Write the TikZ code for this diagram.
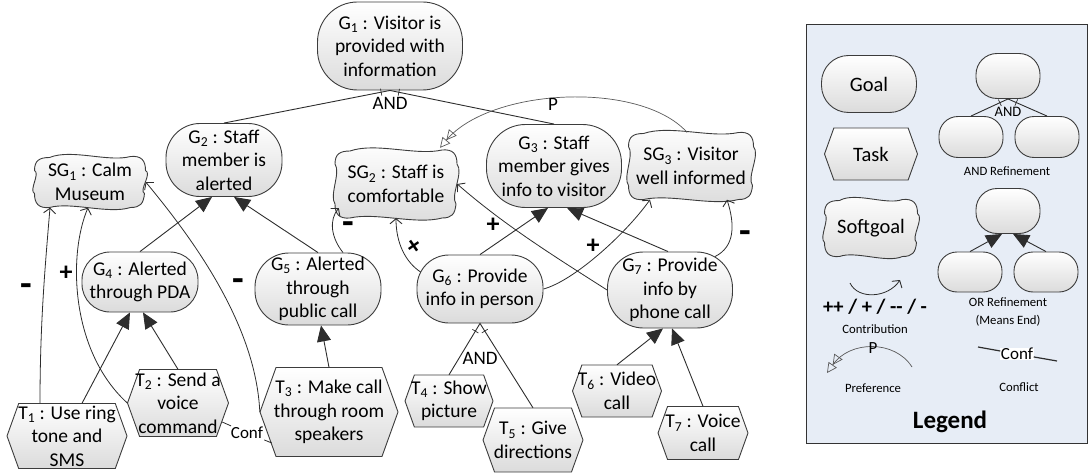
\documentclass[tikz,border=0pt]{standalone}
\usepackage{fontspec}
\setmainfont{Carlito}
\usetikzlibrary{arrows.meta,calc}
\definecolor{legendbg}{RGB}{231,237,246}
\definecolor{edgecol}{RGB}{45,45,45}
\definecolor{bordercol}{RGB}{60,60,60}
\newcommand\mainsz{\fontsize{19.5}{23.5}\selectfont}
\newcommand\legsz{\fontsize{20.5}{24}\selectfont}
\newcommand\smallsz{\fontsize{12.7}{18}\selectfont}
\tikzset{
 base/.style={draw=bordercol, line width=0.9pt, top color=white, bottom color=black!14},
 goalnode/.style={base, rounded corners=#1, align=center, font=\mainsz, inner sep=0pt},
 txtnode/.style={align=center, font=\mainsz, inner sep=0pt},
 meansend/.style={draw=edgecol, line width=0.9pt, -{Triangle[length=16pt,width=14pt]}},
 contrib/.style={draw=edgecol, line width=0.8pt, -{Straight Barb[length=5pt,width=12pt,line width=0.9pt]}},
 pref/.style={draw=black!65, line width=0.7pt, -{Triangle[open,length=10pt,width=10pt]Triangle[open,length=10pt,width=10pt]}},
 refline/.style={draw=edgecol, line width=0.9pt},
 clab/.style={font=\bfseries\fontsize{26}{26}\selectfont, inner sep=0pt},
 mlab/.style={font=\bfseries\fontsize{38}{38}\selectfont, inner sep=0pt},
 andlbl/.style={font=\fontsize{19}{20}\selectfont, inner sep=0pt},
 conflbl/.style={font=\fontsize{17}{17}\selectfont, inner sep=1pt},
 smalltxt/.style={font=\smallsz, align=center, inner sep=0pt},
 legbox/.style={draw=black!80, line width=1pt, fill=legendbg},
}
% softgoal: name, x, y, w, h, text
\newcommand\sgoal[6]{%
 \pgfmathsetmacro\sgA{#4/2}\pgfmathsetmacro\sgB{#5/2}%
 \begin{scope}[shift={(#2,#3)}]
 \path[base] (-\sgA+15,-\sgB+1) .. controls (-\sgA/3,-\sgB-8) and (\sgA/3,-\sgB+6) .. (\sgA-15,-\sgB)
   .. controls (\sgA-4,-\sgB-1) and (\sgA,-\sgB+4) .. (\sgA,-\sgB+14)
   .. controls (\sgA+7,-\sgB/3) and (\sgA-7,\sgB/3) .. (\sgA-1,\sgB-14)
   .. controls (\sgA-2,\sgB-4) and (\sgA-5,\sgB) .. (\sgA-15,\sgB)
   .. controls (\sgA/3,\sgB+7) and (-\sgA/3,\sgB-6) .. (-\sgA+15,\sgB)
   .. controls (-\sgA+4,\sgB+1) and (-\sgA,\sgB-4) .. (-\sgA,\sgB-14)
   .. controls (-\sgA-6,\sgB/3) and (-\sgA+6,-\sgB/3) .. (-\sgA,-\sgB+14)
   .. controls (-\sgA,-\sgB+4) and (-\sgA+5,-\sgB+1) .. cycle;
 \end{scope}
 \node[txtnode, minimum width=#4pt, minimum height=#5pt] (#1) at (#2,#3) {#6};%
}
% task: name, x, y, w, h, text
\newcommand\task[6]{%
 \pgfmathsetmacro\tkA{#4/2}\pgfmathsetmacro\tkB{#5/2}\pgfmathsetmacro\tkD{#5*0.18}%
 \begin{scope}[shift={(#2,#3)}]
 \path[base] (-\tkA,0) -- (-\tkA+\tkD,-\tkB) -- (\tkA-\tkD,-\tkB) -- (\tkA,0) -- (\tkA-\tkD,\tkB) -- (-\tkA+\tkD,\tkB) -- cycle;
 \end{scope}
 \node[txtnode, minimum width=#4pt, minimum height=#5pt] (#1) at (#2,#3) {#6};%
}
\newcommand\andtick[2]{%
 \path ($(#1)!9pt!(#2)$) coordinate (atk);
 \draw[edgecol, line width=0.7pt] ($(atk)!3.5pt!90:(#2)$) -- ($(atk)!3.5pt!-90:(#2)$);%
}
\begin{document}
\begin{tikzpicture}[x=1pt,y=-1pt]
\useasboundingbox (0,0) rectangle (1089,476);
% ---------- main diagram nodes
\node[goalnode=40pt, minimum width=145pt, minimum height=88pt] (G1) at (390,46) {G\textsubscript{1} : Visitor is\\provided with\\information};
\node[goalnode=34pt, minimum width=116pt, minimum height=73pt] (G2) at (224,160) {G\textsubscript{2} : Staff\\member is\\alerted};
\node[goalnode=39pt, minimum width=135pt, minimum height=83pt] (G3) at (554,166) {G\textsubscript{3} : Staff\\member gives\\info to visitor};
\node[goalnode=28pt, minimum width=116pt, minimum height=60pt] (G4) at (140,282) {G\textsubscript{4} : Alerted\\through PDA};
\node[goalnode=34pt, minimum width=126pt, minimum height=72pt] (G5) at (318,289) {G\textsubscript{5} : Alerted\\through\\public call};
\node[goalnode=32pt, minimum width=126pt, minimum height=68pt] (G6) at (480,289) {G\textsubscript{6} : Provide\\info in person};
\node[goalnode=36pt, minimum width=125pt, minimum height=76pt] (G7) at (670,290) {G\textsubscript{7} : Provide\\info by\\phone call};
\sgoal{SG1}{90}{182}{111}{51}{SG\textsubscript{1} : Calm\\Museum}
\sgoal{SG2}{396}{184}{122}{68}{SG\textsubscript{2} : Staff is\\comfortable}
\sgoal{SG3}{691}{166}{125}{67}{SG\textsubscript{3} : Visitor\\well informed}
\task{T1}{67}{436}{120}{65}{T\textsubscript{1} : Use ring\\tone and\\SMS}
\task{T2}{178}{403}{101}{67}{T\textsubscript{2} : Send a\\voice\\command}
\task{T3}{329}{412}{138}{89}{T\textsubscript{3} : Make call\\through room\\speakers}
\task{T4}{449}{401}{88}{52}{T\textsubscript{4} : Show\\picture}
\task{T5}{533}{440}{100}{64}{T\textsubscript{5} : Give\\directions}
\task{T6}{617}{391}{89}{52}{T\textsubscript{6} : Video\\call}
\task{T7}{703}{433}{90}{53}{T\textsubscript{7} : Voice\\call}
% ---------- AND refinements
\draw[refline] (G2.north) -- (G1.south) -- (G3.north);
\andtick{G1.south}{G2.north}\andtick{G1.south}{G3.north}
\node[andlbl] (and1) at ([yshift=-13pt]G1.south) {AND};
\draw[refline] (T4.north) -- (G6.south) -- (T5.north);
\andtick{G6.south}{T4.north}\andtick{G6.south}{T5.north}
\node[andlbl] (and2) at ([yshift=-35pt]G6.south) {AND};
% ---------- means-end
\draw[meansend] ([xshift=15pt]T1.north) -- ([xshift=-10pt]G4.south);
\draw[meansend] (T2.north) -- ([xshift=3pt]G4.south);
\draw[meansend] (T3.north) -- ([xshift=3pt]G5.south);
\draw[meansend] (G4.north) -- ([xshift=-12pt]G2.south);
\draw[meansend] (G5.north) -- ([xshift=10pt]G2.south);
\draw[meansend] (G6.north) -- ([xshift=-6pt]G3.south);
\draw[meansend] ([xshift=-2pt]G7.north) -- ([xshift=13pt]G3.south);
\draw[meansend] (T6.north) -- ([xshift=-7pt]G7.south);
\draw[meansend] (T7.north) -- ([xshift=2pt]G7.south);
% ---------- contributions
\draw[contrib] ([xshift=-27pt]T1.north) .. controls +(0,-80) and +(-5,60) .. ([xshift=-40pt]SG1.south);
\node[mlab] (m1) at (26,290) {-};
\draw[contrib] (T2.west) .. controls +(-57,-52) and +(-20,47) .. ([xshift=-2pt]SG1.south);
\node[clab] (p1) at (66,273) {+};
\draw[contrib] (T3.west) .. controls +(-4,-90) and +(43,52) .. (SG1.east);
\node[mlab] (m2) at (238,285) {-};
\draw[contrib] ([xshift=25pt]G5.north) .. controls +(-12,-15) and +(-10,12) .. ([xshift=4pt,yshift=-24pt]SG2.west);
\node[mlab] (m3) at (348,228) {-};
\draw[contrib] ([xshift=4pt,yshift=17pt]G6.west) .. controls +(-15,-10) and +(0,25) .. (SG2.south);
\node[clab, rotate=35] (p2) at (415,247) {+};
\draw[contrib] (G7.west) .. controls +(-50,-32) and +(48,42) .. (SG2.east);
\node[clab] (p3) at (493,225) {+};
\draw[contrib] (G6.east) .. controls +(30,-8) and +(-25,35) .. ([xshift=-41pt]SG3.south);
\node[clab] (p4) at (593,246) {+};
\draw[contrib] ([xshift=45pt,yshift=-5pt]G7.north) .. controls +(20,-10) and +(8,25) .. ([xshift=36pt]SG3.south);
\node[mlab] (m4) at (745,237) {-};
% ---------- preference
\draw[pref] ([xshift=-4pt]SG3.north) .. controls +(-47,-52) and +(50,-60) .. ([xshift=44pt,yshift=2pt]SG2.north);
\node[andlbl] (P) at (553,104) {P};
% ---------- conflict
\node[conflbl] (conf) at (247,433) {Conf};
\draw[refline, line width=0.8pt] ([xshift=-6.5pt,yshift=-19pt]T2.east) -- (conf) -- ([xshift=12pt,yshift=-31pt]T3.west);
% ---------- legend
\node[legbox, minimum width=281pt, minimum height=418pt, inner sep=0pt] (legend) at (946.5,234) {};
\node[goalnode=27pt, minimum width=95pt, minimum height=57pt, font=\legsz] (LG) at (869,84) {Goal};
\task{LT}{871}{154}{93}{52}{\legsz Task}
\sgoal{LS}{871}{228}{93}{57}{\legsz Softgoal}
\node[goalnode=21pt, minimum width=64pt, minimum height=45pt] (LA0) at (1008,76) {};
\node[goalnode=19pt, minimum width=64pt, minimum height=41pt] (LA1) at (971,137) {};
\node[goalnode=19pt, minimum width=64pt, minimum height=41pt] (LA2) at (1047,137) {};
\draw[refline] (LA1.north) -- (LA0.south) -- (LA2.north);
\andtick{LA0.south}{LA1.north}\andtick{LA0.south}{LA2.north}
\node[font=\fontsize{14.5}{15}\selectfont, inner sep=0pt] (la) at (1008,112) {AND};
\node[smalltxt] (lat) at (1007,171) {AND Refinement};
\node[goalnode=21pt, minimum width=64pt, minimum height=45pt] (LO0) at (1008,211) {};
\node[goalnode=19pt, minimum width=64pt, minimum height=40pt] (LO1) at (970,272) {};
\node[goalnode=19pt, minimum width=64pt, minimum height=40pt] (LO2) at (1046,272) {};
\draw[meansend] (LO1.north) -- ([xshift=-6pt]LO0.south);
\draw[meansend] (LO2.north) -- ([xshift=5pt]LO0.south);
\node[smalltxt] (lot) at (1008,312) {OR Refinement\\(Means End)};
\coordinate (ca) at (850,283); \coordinate (cb) at (900,280);
\draw[contrib] (ca) .. controls +(8,17) and +(-12,18) .. (cb);
\node[font=\bfseries\fontsize{20.5}{21}\selectfont, inner sep=0pt] (ct) at (875,307) {++ / + / -{}- / -};
\node[smalltxt] (ctt) at (875,329) {Contribution};
\coordinate (pa) at (912,367); \coordinate (pb) at (827,373);
\draw[pref] (pa) .. controls +(-17,-27) and +(23,-33) .. (pb);
\node[font=\fontsize{17}{17}\selectfont, inner sep=0pt] (pp) at (873,348) {P};
\node[smalltxt] (ppt) at (873,388) {Preference};
\node[conflbl, fill=white, inner sep=0.5pt] (lc) at (1017,354) {Conf};
\coordinate (lc1) at (978,347); \coordinate (lc2) at (1057,361);
\draw[refline, line width=1.2pt] (lc1) -- (lc) -- (lc2);
\node[smalltxt] (lct) at (1019,387) {Conflict};
\node[font=\bfseries\fontsize{25}{25}\selectfont, inner sep=0pt] (lg) at (950,422) {Legend};
\end{tikzpicture}
\end{document}
